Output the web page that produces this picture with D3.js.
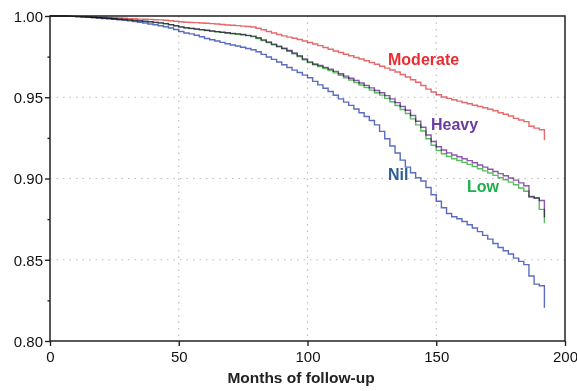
<!DOCTYPE html>
<head>
<style type="text/css">
	body { margin: 0; background: #fff; }
	text { font-family: "Liberation Sans", Arial, sans-serif; }
	.grid line { stroke: #bdbdbd; stroke-width: 1.2; stroke-dasharray: 1.5,5; }
	.curve { fill: none; stroke-width: 1.4; mix-blend-mode: multiply; }
</style>
</head>
<script src="https://d3js.org/d3.v7.min.js"></script>
<body>
	<svg width="577" height="391"></svg>
	<script>
	// follow-up months (step points)
	var months = [0,2,4,6,8,10,12,14,16,18,
		20,22,24,26,28,30,32,34,36,38,
		40,42,44,46,48,50,52,54,56,58,
		60,62,64,66,68,70,72,74,76,78,
		80,82,84,86,88,90,92,94,96,98,
		100,102,104,106,108,110,112,114,116,118,
		120,122,124,126,128,130,132,134,136,138,
		140,142,144,146,148,150,152,154,156,158,
		160,162,164,166,168,170,172,174,176,178,
		180,182,184,186,188,190,192];

	var moderate = [1.0000,1.0000,1.0000,0.9999,0.9998,0.9998,0.9997,0.9996,0.9994,0.9993,
		0.9992,0.9990,0.9989,0.9988,0.9986,0.9984,0.9983,0.9981,0.9980,0.9979,
		0.9977,0.9976,0.9974,0.9971,0.9968,0.9965,0.9962,0.9960,0.9959,0.9957,
		0.9955,0.9953,0.9951,0.9948,0.9945,0.9943,0.9941,0.9938,0.9935,0.9932,
		0.9925,0.9915,0.9905,0.9895,0.9886,0.9878,0.9870,0.9863,0.9855,0.9846,
		0.9837,0.9828,0.9818,0.9806,0.9795,0.9785,0.9775,0.9765,0.9755,0.9745,
		0.9735,0.9725,0.9714,0.9703,0.9691,0.9679,0.9668,0.9655,0.9640,0.9625,
		0.9608,0.9592,0.9572,0.9550,0.9532,0.9515,0.9502,0.9493,0.9485,0.9476,
		0.9468,0.9460,0.9451,0.9443,0.9435,0.9426,0.9417,0.9405,0.9395,0.9385,
		0.9370,0.9360,0.9350,0.9322,0.9310,0.9300,0.9235];

	var heavy = [1.0000,1.0000,1.0000,0.9999,0.9998,0.9996,0.9995,0.9994,0.9992,0.9990,
		0.9988,0.9986,0.9983,0.9981,0.9979,0.9976,0.9973,0.9971,0.9968,0.9965,
		0.9961,0.9958,0.9953,0.9947,0.9940,0.9933,0.9928,0.9924,0.9920,0.9916,
		0.9912,0.9908,0.9904,0.9900,0.9897,0.9893,0.9890,0.9886,0.9881,0.9876,
		0.9866,0.9853,0.9840,0.9827,0.9814,0.9802,0.9788,0.9772,0.9755,0.9735,
		0.9718,0.9705,0.9695,0.9684,0.9672,0.9659,0.9645,0.9630,0.9617,0.9603,
		0.9588,0.9573,0.9558,0.9542,0.9528,0.9510,0.9490,0.9467,0.9443,0.9420,
		0.9388,0.9352,0.9315,0.9268,0.9228,0.9195,0.9175,0.9158,0.9145,0.9134,
		0.9122,0.9110,0.9097,0.9083,0.9070,0.9057,0.9043,0.9030,0.9017,0.9003,
		0.8990,0.8973,0.8955,0.8890,0.8880,0.8865,0.8760];

	var low = [1.0000,1.0000,1.0000,0.9999,0.9998,0.9996,0.9995,0.9993,0.9991,0.9989,
		0.9987,0.9985,0.9983,0.9980,0.9978,0.9975,0.9972,0.9970,0.9967,0.9964,
		0.9960,0.9957,0.9952,0.9946,0.9939,0.9932,0.9927,0.9923,0.9919,0.9915,
		0.9911,0.9907,0.9903,0.9899,0.9895,0.9891,0.9888,0.9884,0.9879,0.9873,
		0.9862,0.9849,0.9836,0.9823,0.9810,0.9798,0.9783,0.9767,0.9750,0.9730,
		0.9713,0.9700,0.9689,0.9677,0.9664,0.9650,0.9635,0.9620,0.9606,0.9590,
		0.9575,0.9560,0.9544,0.9528,0.9513,0.9493,0.9472,0.9449,0.9425,0.9400,
		0.9367,0.9330,0.9292,0.9245,0.9205,0.9172,0.9152,0.9135,0.9122,0.9111,
		0.9099,0.9087,0.9074,0.9060,0.9047,0.9034,0.9019,0.9005,0.8992,0.8978,
		0.8962,0.8942,0.8922,0.8885,0.8880,0.8810,0.8725];

	var nil = [1.0000,1.0000,1.0000,0.9999,0.9998,0.9996,0.9995,0.9993,0.9990,0.9988,
		0.9985,0.9983,0.9980,0.9977,0.9973,0.9970,0.9966,0.9962,0.9957,0.9951,
		0.9946,0.9940,0.9934,0.9926,0.9917,0.9905,0.9895,0.9890,0.9882,0.9872,
		0.9862,0.9854,0.9846,0.9838,0.9829,0.9822,0.9815,0.9808,0.9800,0.9792,
		0.9780,0.9764,0.9748,0.9733,0.9717,0.9700,0.9683,0.9667,0.9652,0.9636,
		0.9620,0.9598,0.9576,0.9555,0.9535,0.9512,0.9490,0.9470,0.9450,0.9428,
		0.9405,0.9382,0.9357,0.9330,0.9290,0.9245,0.9200,0.9157,0.9113,0.9070,
		0.9035,0.9005,0.8985,0.8945,0.8900,0.8860,0.8820,0.8785,0.8765,0.8752,
		0.8735,0.8715,0.8695,0.8673,0.8650,0.8627,0.8600,0.8575,0.8555,0.8535,
		0.8510,0.8490,0.8470,0.8400,0.8350,0.8340,0.8205];

	var xTicks = [0, 50, 100, 150, 200];
	var yTicks = [0.80, 0.85, 0.90, 0.95, 1.00];
	var yMinor = [0.825, 0.875, 0.925, 0.975];

	var series = [
		{ name: "Low",      values: low,      line: "#5cba60", label: "#1daf4b", lx: 467, ly: 192 },
		{ name: "Heavy",    values: heavy,    line: "#8a58ad", label: "#6a3d9e", lx: 431, ly: 130 },
		{ name: "Nil",      values: nil,      line: "#5b6cbf", label: "#2c5e9a", lx: 388, ly: 180 },
		{ name: "Moderate", values: moderate, line: "#e46a6c", label: "#ec2a30", lx: 388, ly: 65 }
	];

	var svg = d3.select("svg");

	var x = d3.scaleLinear().domain([0, 200]).range([50, 565]);
	var y = d3.scaleLinear().domain([0.80, 1.00]).range([341, 16]);

	// dotted grid
	var grid = svg.append("g").attr("class", "grid");
	grid.selectAll(".v").data([50, 100, 150]).enter().append("line")
		.attr("x1", function(d) { return x(d); }).attr("x2", function(d) { return x(d); })
		.attr("y1", y(1.0)).attr("y2", y(0.8));
	grid.selectAll(".h").data([0.85, 0.90, 0.95]).enter().append("line")
		.attr("x1", x(0)).attr("x2", x(200))
		.attr("y1", function(d) { return y(d); }).attr("y2", function(d) { return y(d); });

	// curves
	var line = d3.line()
		.x(function(d) { return x(d[0]); })
		.y(function(d) { return y(d[1]); })
		.curve(d3.curveStepAfter);

	svg.append("g").selectAll("path")
		.data(series)
		.enter().append("path")
		.attr("class", "curve")
		.attr("stroke", function(d) { return d.line; })
		.attr("d", function(d) { return line(months.map(function(m, i) { return [m, d.values[i]]; })); });

	// frame
	svg.append("rect")
		.attr("x", x(0)).attr("y", y(1.0))
		.attr("width", x(200) - x(0)).attr("height", y(0.8) - y(1.0))
		.attr("fill", "none").attr("stroke", "#222").attr("stroke-width", 1.5);

	// y axis
	var yAxis = svg.append("g").attr("transform", "translate(" + x(0) + ",0)")
		.call(d3.axisLeft(y).tickValues(yTicks).tickSize(5).tickFormat(d3.format(".2f")));
	svg.append("g").attr("transform", "translate(" + x(0) + ",0)")
		.call(d3.axisLeft(y).tickValues(yMinor).tickSize(2.5).tickFormat(""))
		.select(".domain").remove();

	// x axis
	var xAxis = svg.append("g").attr("transform", "translate(0," + y(0.8) + ")")
		.call(d3.axisBottom(x).tickValues(xTicks).tickSize(5).tickFormat(d3.format("d")));

	svg.selectAll(".domain").remove();
	svg.selectAll(".tick line").attr("stroke", "#222").attr("stroke-width", 1.4);
	svg.selectAll(".tick text")
		.attr("font-family", "Liberation Sans, Arial, sans-serif")
		.attr("font-size", 15)
		.attr("fill", "#111");
	yAxis.selectAll(".tick text").attr("x", -7).attr("dy", "0.36em");
	xAxis.selectAll(".tick text").attr("y", 10).attr("dy", "0.72em");

	svg.append("text")
		.attr("x", 301).attr("y", 383)
		.attr("text-anchor", "middle")
		.attr("font-size", 15.5)
		.attr("font-weight", "bold")
		.attr("fill", "#222")
		.text("Months of follow-up");

	// series labels
	svg.append("g").selectAll("text")
		.data(series)
		.enter().append("text")
		.attr("x", function(d) { return d.lx; })
		.attr("y", function(d) { return d.ly; })
		.attr("font-size", 16)
		.attr("font-weight", "bold")
		.attr("fill", function(d) { return d.label; })
		.text(function(d) { return d.name; });
	</script>
</body>
